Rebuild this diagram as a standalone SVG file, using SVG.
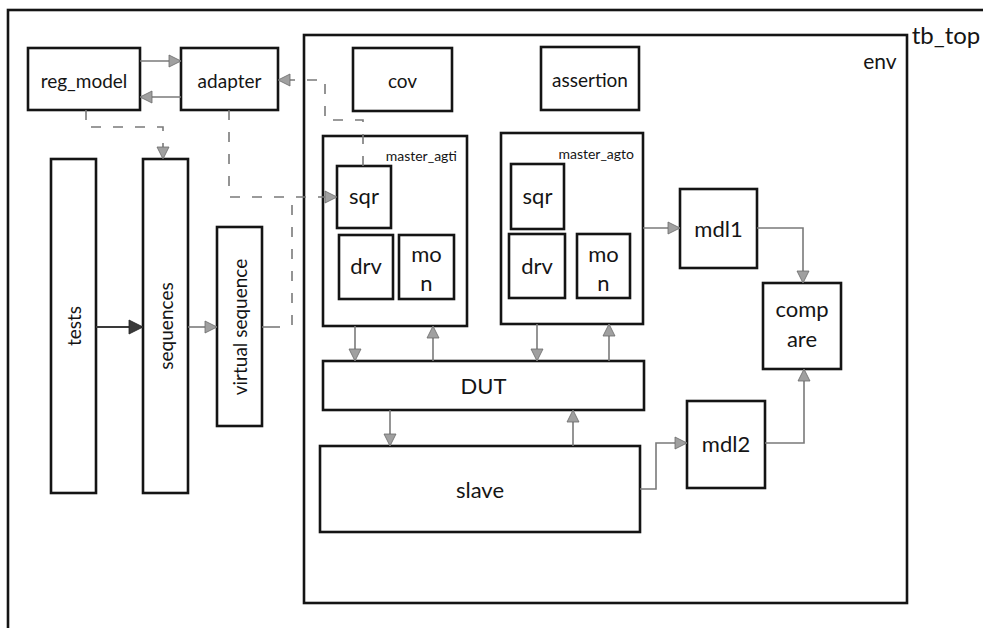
<svg xmlns="http://www.w3.org/2000/svg" width="983" height="628" viewBox="0 0 983 628">
  <style>
    .box { fill: #fff; stroke: #141414; stroke-width: 2.6; }
    .frame { fill: none; stroke: #141414; stroke-width: 2.6; }
    .lbl { font-family: Lato, "Liberation Sans", sans-serif; fill: #151515; text-anchor: middle; dominant-baseline: central; }
    .s18 { font-size: 19px; }
    .s22 { font-size: 22px; }
    .s13 { font-size: 14px; text-anchor: end; }
    .wire { fill: none; stroke: #7a7a7a; stroke-width: 1.6; }
    .dash { fill: none; stroke: #7a7a7a; stroke-width: 1.6; stroke-dasharray: 10 12; }
    .dark { fill: none; stroke: #3a3a3a; stroke-width: 2; }
  </style>
  <defs>
    <marker id="ah" markerUnits="userSpaceOnUse" markerWidth="14" markerHeight="14" refX="13" refY="7" orient="auto">
      <path d="M1,1 L13,7 L1,13 Z" fill="#a0a0a0" stroke="#6a6a6a" stroke-width="0.8"/>
    </marker>
    <marker id="ahDark" markerUnits="userSpaceOnUse" markerWidth="16" markerHeight="16" refX="15" refY="8" orient="auto">
      <path d="M1,1 L15,8 L1,15 Z" fill="#3a3a3a" stroke="#222" stroke-width="0.8"/>
    </marker>
  </defs>

  <rect width="983" height="628" fill="#fff"/>

  <!-- outer testbench frame (runs off the right and bottom edges) -->
  <g id="tb_top">
    <rect class="frame" x="8" y="10" width="1000" height="640"/>
    <text class="lbl" x="946" y="34" style="font-size:24px">tb_top</text>
  </g>

  <!-- environment frame -->
  <g id="env">
    <rect class="frame" x="304" y="35" width="603" height="568"/>
    <text class="lbl" x="880" y="60" style="font-size:21px">env</text>
  </g>

  <g id="reg_model">
    <rect class="box" x="28" y="48" width="112" height="62"/>
    <text class="lbl s18" x="84" y="80">reg_model</text>
  </g>
  <g id="adapter">
    <rect class="box" x="181" y="48" width="97" height="62"/>
    <text class="lbl s18" x="229.5" y="80">adapter</text>
  </g>
  <g id="cov">
    <rect class="box" x="353" y="48" width="99" height="63"/>
    <text class="lbl s18" x="402.5" y="80">cov</text>
  </g>
  <g id="assertion">
    <rect class="box" x="541" y="47" width="98" height="63"/>
    <text class="lbl s18" x="590" y="79">assertion</text>
  </g>

  <g id="tests">
    <rect class="box" x="51" y="159" width="45" height="334"/>
    <text class="lbl s18" transform="translate(73.5,326) rotate(-90)">tests</text>
  </g>
  <g id="sequences">
    <rect class="box" x="143" y="159" width="45" height="334"/>
    <text class="lbl s18" transform="translate(165.5,326) rotate(-90)">sequences</text>
  </g>
  <g id="virtual_sequence">
    <rect class="box" x="217" y="227" width="45" height="199"/>
    <text class="lbl s18" transform="translate(239.5,327) rotate(-90)">virtual sequence</text>
  </g>

  <g id="master_agti">
    <rect class="box" x="323" y="136" width="144" height="190"/>
    <text class="lbl s13" x="457" y="155">master_agti</text>
    <g id="agti_sqr">
      <rect class="box" x="337" y="166" width="54" height="62"/>
      <text class="lbl s22" x="364" y="195">sqr</text>
    </g>
    <g id="agti_drv">
      <rect class="box" x="339" y="235" width="54" height="64"/>
      <text class="lbl s22" x="366" y="265">drv</text>
    </g>
    <g id="agti_mon">
      <rect class="box" x="399" y="235" width="55" height="64"/>
      <text class="lbl s22" x="426.5" y="253">mo</text>
      <text class="lbl s22" x="426.5" y="282">n</text>
    </g>
  </g>

  <g id="master_agto">
    <rect class="box" x="501" y="133" width="142" height="191"/>
    <text class="lbl s13" x="634" y="153">master_agto</text>
    <g id="agto_sqr">
      <rect class="box" x="511" y="164" width="53" height="65"/>
      <text class="lbl s22" x="537.5" y="195">sqr</text>
    </g>
    <g id="agto_drv">
      <rect class="box" x="509" y="234" width="56" height="64"/>
      <text class="lbl s22" x="537" y="265">drv</text>
    </g>
    <g id="agto_mon">
      <rect class="box" x="577" y="234" width="53" height="64"/>
      <text class="lbl s22" x="603.5" y="253">mo</text>
      <text class="lbl s22" x="603.5" y="282">n</text>
    </g>
  </g>

  <g id="DUT">
    <rect class="box" x="323" y="361" width="321" height="49"/>
    <text class="lbl s22" x="483.5" y="385">DUT</text>
  </g>
  <g id="slave">
    <rect class="box" x="320" y="446" width="320" height="86"/>
    <text class="lbl s22" x="480" y="489">slave</text>
  </g>
  <g id="mdl1">
    <rect class="box" x="680" y="189" width="77" height="79"/>
    <text class="lbl s22" x="718.5" y="228">mdl1</text>
  </g>
  <g id="mdl2">
    <rect class="box" x="687" y="401" width="78" height="87"/>
    <text class="lbl s22" x="726" y="443">mdl2</text>
  </g>
  <g id="compare">
    <rect class="box" x="763" y="283" width="78" height="86"/>
    <text class="lbl s22" x="802" y="308">comp</text>
    <text class="lbl s22" x="802" y="338">are</text>
  </g>

  <g id="connectors">
    <!-- register path -->
    <path class="wire" d="M140,61 H181" marker-end="url(#ah)"/>
    <path class="wire" d="M181,97 H140" marker-end="url(#ah)"/>
    <path class="dash" d="M86,110 V127 H163 V159" marker-end="url(#ah)"/>
    <path class="dash" d="M229,110 V197 H337" marker-end="url(#ah)"/>
    <path class="dash" d="M363,166 V120 H325 V80 H278" marker-end="url(#ah)"/>
    <!-- stimulus chain -->
    <path class="dark" d="M96,327 H143" marker-end="url(#ahDark)"/>
    <path class="wire" d="M188,327 H217" marker-end="url(#ah)"/>
    <path class="wire" d="M262,327 H280"/>
    <path class="dash" d="M292,325 V197"/>
    <!-- agents to DUT -->
    <path class="wire" d="M355,326 V361" marker-end="url(#ah)"/>
    <path class="wire" d="M433,361 V326" marker-end="url(#ah)"/>
    <path class="wire" d="M537,324 V361" marker-end="url(#ah)"/>
    <path class="wire" d="M609,361 V324" marker-end="url(#ah)"/>
    <!-- DUT to slave -->
    <path class="wire" d="M390,410 V446" marker-end="url(#ah)"/>
    <path class="wire" d="M573,446 V410" marker-end="url(#ah)"/>
    <!-- models and compare -->
    <path class="wire" d="M643,228 H680" marker-end="url(#ah)"/>
    <path class="wire" d="M757,228 H803 V283" marker-end="url(#ah)"/>
    <path class="wire" d="M640,489 H656 V443 H687" marker-end="url(#ah)"/>
    <path class="wire" d="M765,443 H804 V369" marker-end="url(#ah)"/>
  </g>
</svg>
